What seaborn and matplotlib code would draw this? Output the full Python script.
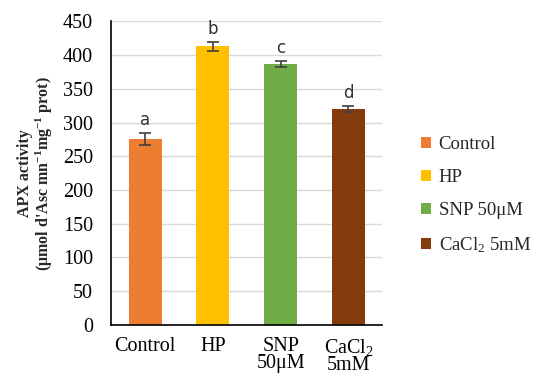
import matplotlib
matplotlib.use("Agg")
import matplotlib.pyplot as plt
import seaborn as sns
import pandas as pd
from matplotlib.patches import Patch

sns.set_theme(style="white")
plt.rcParams['font.family'] = ['Liberation Serif', 'DejaVu Serif']
plt.rcParams['mathtext.default'] = 'regular'

categories = ["Control", "HP", "SNP 50μM", "CaCl$_2$ 5mM"]
tick_labels = ["Control", "HP", "SNP\n50μM", "CaCl$_2$\n5mM"]
values = [276, 413, 387, 320]
errors = [9, 6.5, 4, 4]
letters = ["a", "b", "c", "d"]
colors = ["#ED7D31", "#FFC000", "#70AD47", "#843C0C"]

df = pd.DataFrame({"group": categories, "apx": values})

fig = plt.figure(figsize=(5.4, 3.76), dpi=100)
ax = fig.add_axes([0.206, 0.136, 0.502, 0.807])

sns.barplot(data=df, x="group", y="apx", hue="group", palette=colors,
            saturation=1, width=0.49, legend=False, ax=ax, linewidth=0)
ax.errorbar(range(len(values)), values, yerr=errors, fmt="none",
            ecolor="#404040", elinewidth=1.2, capsize=4, capthick=1.2)
for i, (v, e, t) in enumerate(zip(values, errors, letters)):
    ax.text(i, v + e + 6, t, ha="center", va="bottom", fontsize=12,
            family=['DejaVu Sans'], color="#333333")

ax.set_ylim(0, 450)
ax.set_yticks(range(0, 451, 50))
ax.set_xlim(-0.5, 3.5)
ax.yaxis.grid(True, color="#d9d9d9", linewidth=1)
ax.set_axisbelow(True)
for s in ["top", "right"]:
    ax.spines[s].set_visible(False)
for s in ["left", "bottom"]:
    ax.spines[s].set_color("black")
    ax.spines[s].set_linewidth(1.2)
ax.tick_params(axis="both", length=0, labelsize=14.5, colors="black")
ax.tick_params(axis="y", pad=13)
ax.tick_params(axis="x", pad=9)
ax.set_xticks(range(4))
ax.set_xticklabels(tick_labels, linespacing=0.85)
ax.set_xlabel("")
ax.set_ylabel("APX activity\n(μmol d'Asc mn$^{-1}$mg$^{-1}$ prot)",
              fontsize=11.5, fontweight="bold", linespacing=1.0, labelpad=6)

handles = [Patch(facecolor=c, edgecolor="none") for c in colors]
leg = fig.legend(handles, categories, loc="center left",
                 bbox_to_anchor=(0.748, 0.48), frameon=False, fontsize=13.5,
                 handlelength=0.55, handleheight=0.55, handletextpad=0.4,
                 labelspacing=0.85)

fig.savefig("out.png", dpi=100)
